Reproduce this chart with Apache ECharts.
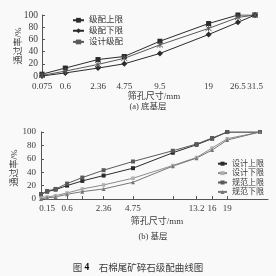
<!DOCTYPE html>
<html><head><meta charset="utf-8">
<script src="https://cdn.jsdelivr.net/npm/echarts@6/dist/echarts.min.js"></script>
<style>html,body{margin:0;padding:0;background:#f9f9f9}#c{width:276px;height:276px}</style>
</head><body><div id="c"></div>
<script>
// ---- data ----
const sievesA = [0.075, 0.6, 2.36, 4.75, 9.5, 19, 26.5, 31.5];
const tickLabelsA = ['0.075', '0.6', '2.36', '4.75', '9.5', '19', '26.5', '31.5'];
const upperA = [3, 13, 27, 32, 57, 86, 100, 100];
const lowerA = [0, 5, 13, 20, 37, 68, 88, 100];
const designA = [1, 8, 19, 29, 51, 78, 96, 100];
const namesA = ['级配上限', '级配下限', '设计级配'];

const sievesB = [0.075, 0.15, 0.3, 0.6, 1.18, 2.36, 4.75, 9.5, 13.2, 16, 19, 26.5];
const tickSievesB = [0.15, 0.3, 0.6, 1.18, 2.36, 4.75, 9.5, 13.2, 16, 19];
const tickLabelsB = ['0.15', '0.6', '2.36', '4.75', '13.2', '16', '19'];
const designUpperB = [7, 11, 14, 20, 27, 35, 46, 69, 81, 90, 100, 100];
const designLowerB = [3, 3, 5, 9, 15, 21, 31, 50, 62, 76, 90, 100];
const specUpperB = [7, 12, 15, 23, 32, 43, 56, 72, 82, 91, 100, 100];
const specLowerB = [0, 2, 3, 7, 11, 15, 25, 49, 61, 73, 88, 100];
const namesB = ['设计上限', '设计下限', '规范上限', '规范下限'];

// ---- scale: sieve size ^ 0.45 ----
const P = 0.45;
const f = v => Math.pow(v, P);
const pair = (xs, ys) => xs.map((x, i) => [f(x), ys[i]]);
const labelOf = (v, list) => { const s = list.find(t => Math.abs(f(parseFloat(t)) - v) < 1e-6); return s || ''; };

const FONT = "'Liberation Serif','Noto Sans CJK SC',serif";
const TXT = '#3a3a3a';
const DARK = '#2b2b2b';
const GREY = '#8c8c8c';
const MID = '#5a5a5a';
const starPath = 'path://M-1,-1L1,1M-1,1L1,-1M0,-1.2L0,1.2';

const minB = f(0.075);
const maxB = minB + (f(26.5) - minB) * 227 / 219;

const chart = echarts.init(document.getElementById('c'));
chart.setOption({
  backgroundColor: '#f9f9f9',
  animation: false,
  textStyle: { fontFamily: FONT, color: TXT },
  grid: [
    { left: 42, right: 21, top: 15, height: 61 },
    { left: 41, right: 8, top: 132, height: 67 }
  ],
  xAxis: [
    {
      gridIndex: 0, type: 'value', min: f(0.075), max: f(31.5),
      axisLine: { show: false }, axisTick: { show: false }, splitLine: { show: false },
      axisLabel: {
        customValues: sievesA.map(f), formatter: v => labelOf(v, tickLabelsA),
        fontSize: 9, color: TXT, fontFamily: FONT, margin: 6, hideOverlap: false
      }
    },
    {
      gridIndex: 1, type: 'value', min: minB, max: maxB,
      axisLine: { show: true, lineStyle: { color: '#555', width: 1 } },
      axisTick: { show: true, inside: true, length: 3, customValues: tickSievesB.map(f), lineStyle: { color: '#555' } },
      splitLine: { show: false },
      axisLabel: {
        customValues: tickLabelsB.map(s => f(parseFloat(s))), formatter: v => labelOf(v, tickLabelsB),
        fontSize: 9, color: TXT, fontFamily: FONT, margin: 5, hideOverlap: false
      }
    }
  ],
  yAxis: [
    {
      gridIndex: 0, type: 'value', min: 0, max: 100, interval: 20,
      axisLine: { show: true, lineStyle: { color: '#555', width: 1 } },
      axisTick: { show: true, inside: true, length: 3, lineStyle: { color: '#555' } },
      splitLine: { show: false },
      axisLabel: { fontSize: 9.5, color: TXT, fontFamily: FONT, margin: 4 }
    },
    {
      gridIndex: 1, type: 'value', min: 0, max: 100, interval: 20,
      axisLine: { show: true, lineStyle: { color: '#555', width: 1 } },
      axisTick: { show: true, inside: true, length: 3, lineStyle: { color: '#555' } },
      splitLine: { show: false },
      axisLabel: { fontSize: 9, color: TXT, fontFamily: FONT, margin: 5 }
    }
  ],
  legend: [
    {
      data: namesA, orient: 'vertical', left: 67, top: 11, itemGap: 2, itemWidth: 11, itemHeight: 6,
      textStyle: { fontSize: 8.5, color: TXT, fontFamily: FONT }, selectedMode: false
    },
    {
      data: namesB, orient: 'vertical', left: 212, top: 154, itemGap: 0, itemWidth: 9, itemHeight: 5,
      textStyle: { fontSize: 8, lineHeight: 9.4, color: TXT, fontFamily: FONT }, selectedMode: false
    }
  ],
  series: [
    { name: namesA[0], type: 'line', xAxisIndex: 0, yAxisIndex: 0, data: pair(sievesA, upperA),
      symbol: 'rect', symbolSize: 5, lineStyle: { color: DARK, width: 1 }, itemStyle: { color: DARK } },
    { name: namesA[1], type: 'line', xAxisIndex: 0, yAxisIndex: 0, data: pair(sievesA, lowerA),
      symbol: 'diamond', symbolSize: 6, lineStyle: { color: DARK, width: 1 }, itemStyle: { color: DARK } },
    { name: namesA[2], type: 'line', xAxisIndex: 0, yAxisIndex: 0, data: pair(sievesA, designA),
      symbol: starPath, symbolSize: 6, lineStyle: { color: MID, width: 1 },
      itemStyle: { color: 'none', borderColor: MID, borderWidth: 1 } },

    { name: namesB[0], type: 'line', xAxisIndex: 1, yAxisIndex: 1, data: pair(sievesB, designUpperB),
      symbol: 'rect', symbolSize: 4, lineStyle: { color: DARK, width: 1 }, itemStyle: { color: DARK } },
    { name: namesB[1], type: 'line', xAxisIndex: 1, yAxisIndex: 1, data: pair(sievesB, designLowerB),
      symbol: 'rect', symbolSize: 3.5, lineStyle: { color: GREY, width: 1 }, itemStyle: { color: '#b0b0b0' } },
    { name: namesB[2], type: 'line', xAxisIndex: 1, yAxisIndex: 1, data: pair(sievesB, specUpperB),
      symbol: 'rect', symbolSize: 4, lineStyle: { color: MID, width: 1 }, itemStyle: { color: MID } },
    { name: namesB[3], type: 'line', xAxisIndex: 1, yAxisIndex: 1, data: pair(sievesB, specLowerB),
      symbol: 'triangle', symbolSize: 4, lineStyle: { color: '#777', width: 1 }, itemStyle: { color: '#777' } }
  ],
  graphic: [
    { type: 'text', x: 19, y: 46, rotation: Math.PI / 2,
      style: { text: '通过率/%', font: "9px " + FONT, fill: TXT, align: 'center', verticalAlign: 'middle' } },
    { type: 'text', x: 15, y: 168, rotation: Math.PI / 2,
      style: { text: '通过率/%', font: "9px " + FONT, fill: TXT, align: 'center', verticalAlign: 'middle' } },
    { type: 'text', x: 154, y: 97,
      style: { text: '筛孔尺寸/mm', font: "9px " + FONT, fill: TXT, align: 'center', verticalAlign: 'middle' } },
    { type: 'text', x: 148, y: 107,
      style: { text: '(a) 底基层', font: "8.5px " + FONT, fill: TXT, align: 'center', verticalAlign: 'middle' } },
    { type: 'text', x: 157, y: 222,
      style: { text: '筛孔尺寸/mm', font: "9px " + FONT, fill: TXT, align: 'center', verticalAlign: 'middle' } },
    { type: 'text', x: 153, y: 237,
      style: { text: '(b) 基层', font: "8.5px " + FONT, fill: TXT, align: 'center', verticalAlign: 'middle' } },
    { type: 'text', x: 138, y: 268,
      style: { text: '{a|图 }{b|4}{a|    石棉尾矿碎石级配曲线图}', align: 'center', verticalAlign: 'middle',
        rich: { a: { fontSize: 9.5, fontFamily: FONT, fill: TXT, color: TXT }, b: { fontSize: 9.5, fontWeight: 'bold', fontFamily: FONT, color: TXT } } } }
  ]
});
</script></body></html>
